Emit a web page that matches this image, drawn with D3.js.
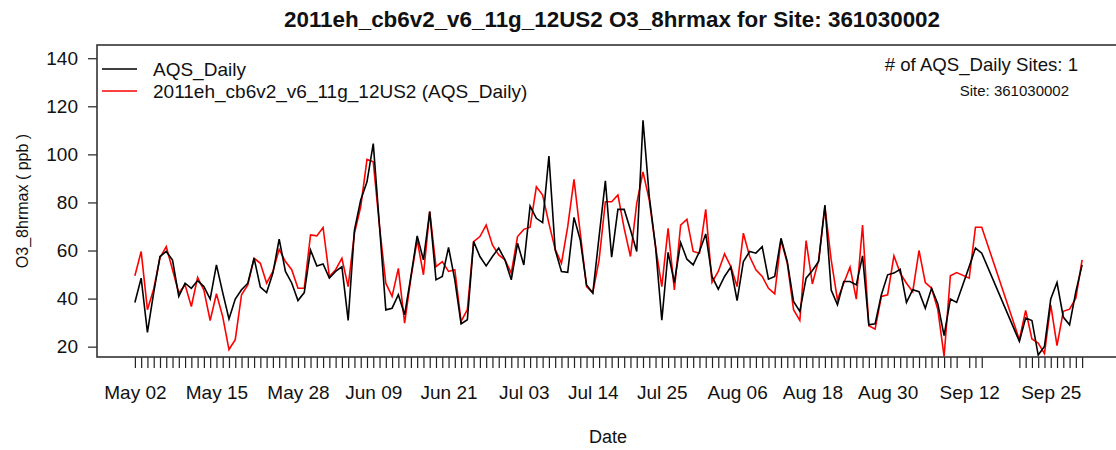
<!DOCTYPE html>
<html>
<head>
<meta charset="utf-8">
<script src="https://cdn.jsdelivr.net/npm/d3@7"></script>
<style>
  body { margin: 0; background: #fff; }
  svg text { font-family: "Liberation Sans", Arial, Helvetica, sans-serif; fill: #111; }
</style>
</head>
<body>
<div id="chart"></div>
<script>
// dates with data (Sep 11 and Sep 15-19 are missing)
const dates = [
  "2011-05-02","2011-05-03","2011-05-04","2011-05-05","2011-05-06","2011-05-07","2011-05-08","2011-05-09","2011-05-10","2011-05-11",
  "2011-05-12","2011-05-13","2011-05-14","2011-05-15","2011-05-16","2011-05-17","2011-05-18","2011-05-19","2011-05-20","2011-05-21",
  "2011-05-22","2011-05-23","2011-05-24","2011-05-25","2011-05-26","2011-05-27","2011-05-28","2011-05-29","2011-05-30","2011-05-31",
  "2011-06-01","2011-06-02","2011-06-03","2011-06-04","2011-06-05","2011-06-06","2011-06-07","2011-06-08","2011-06-09","2011-06-10",
  "2011-06-11","2011-06-12","2011-06-13","2011-06-14","2011-06-15","2011-06-16","2011-06-17","2011-06-18","2011-06-19","2011-06-20",
  "2011-06-21","2011-06-22","2011-06-23","2011-06-24","2011-06-25","2011-06-26","2011-06-27","2011-06-28","2011-06-29","2011-06-30",
  "2011-07-01","2011-07-02","2011-07-03","2011-07-04","2011-07-05","2011-07-06","2011-07-07","2011-07-08","2011-07-09","2011-07-10",
  "2011-07-11","2011-07-12","2011-07-13","2011-07-14","2011-07-15","2011-07-16","2011-07-17","2011-07-18","2011-07-19","2011-07-20",
  "2011-07-21","2011-07-22","2011-07-23","2011-07-24","2011-07-25","2011-07-26","2011-07-27","2011-07-28","2011-07-29","2011-07-30",
  "2011-07-31","2011-08-01","2011-08-02","2011-08-03","2011-08-04","2011-08-05","2011-08-06","2011-08-07","2011-08-08","2011-08-09",
  "2011-08-10","2011-08-11","2011-08-12","2011-08-13","2011-08-14","2011-08-15","2011-08-16","2011-08-17","2011-08-18","2011-08-19",
  "2011-08-20","2011-08-21","2011-08-22","2011-08-23","2011-08-24","2011-08-25","2011-08-26","2011-08-27","2011-08-28","2011-08-29",
  "2011-08-30","2011-08-31","2011-09-01","2011-09-02","2011-09-03","2011-09-04","2011-09-05","2011-09-06","2011-09-07","2011-09-08",
  "2011-09-09","2011-09-10","2011-09-12","2011-09-13","2011-09-14","2011-09-20","2011-09-21","2011-09-22","2011-09-23","2011-09-24",
  "2011-09-25","2011-09-26","2011-09-27","2011-09-28","2011-09-29","2011-09-30"
];

// AQS_Daily observed O3 8hr max (ppb)
const obsValues = [
  38.4, 48.5, 25.9, 42.5, 57.5, 59.6, 56.0, 40.9, 46.4, 44.3,
  47.5, 45.0, 39.8, 54.0, 42.5, 31.5, 39.8, 43.7, 46.4, 56.8,
  44.8, 42.5, 50.6, 64.7, 51.3, 46.5, 39.2, 42.5, 60.2, 53.6,
  54.4, 48.5, 51.3, 53.3, 30.9, 68.5, 81.0, 88.6, 104.5, 70.0,
  35.3, 36.0, 41.6, 33.3, 49.2, 66.1, 56.1, 76.2, 47.8, 49.2,
  61.3, 47.8, 29.5, 31.2, 63.7, 57.5, 53.6, 57.5, 61.0, 56.1,
  47.8, 63.0, 54.0, 78.5, 73.4, 71.6, 99.3, 60.3, 51.3, 50.9,
  73.8, 64.4, 45.7, 42.3, 65.8, 89.0, 57.2, 77.1, 77.1, 68.6,
  59.6, 114.2, 82.4, 61.6, 31.0, 59.2, 46.7, 63.3, 56.4, 54.0,
  59.6, 66.9, 49.2, 43.9, 49.2, 53.1, 39.2, 55.4, 59.6, 58.9,
  61.6, 48.1, 49.2, 65.1, 55.4, 38.8, 34.7, 48.5, 51.7, 55.4,
  78.9, 43.6, 37.4, 47.1, 47.1, 45.7, 57.8, 29.1, 29.5, 41.6,
  49.9, 50.6, 52.2, 38.4, 43.7, 42.9, 36.0, 44.3, 37.8, 24.6,
  39.8, 38.4, 53.3, 61.0, 58.9, 22.2, 31.9, 30.9, 16.5, 20.1,
  39.8, 46.7, 32.3, 29.1, 42.9, 54.0
];

// 2011eh_cb6v2_v6_11g_12US2 model values at the same dates
const modelValues = [
  49.5, 59.6, 35.4, 44.0, 57.0, 61.6, 52.0, 42.3, 45.7, 36.7,
  48.8, 43.5, 30.9, 42.0, 32.5, 18.8, 22.9, 41.6, 45.7, 56.8,
  54.7, 46.4, 51.3, 60.5, 55.4, 52.0, 44.3, 44.3, 66.5, 66.1,
  69.6, 49.2, 52.0, 56.8, 45.0, 67.2, 78.2, 97.9, 96.9, 70.0,
  46.4, 40.9, 52.6, 29.8, 48.5, 64.4, 49.9, 76.2, 53.3, 55.4,
  51.3, 52.0, 30.5, 35.4, 63.7, 65.8, 70.6, 62.3, 58.2, 56.1,
  50.6, 65.8, 68.8, 69.7, 86.5, 83.1, 71.3, 60.5, 54.7, 69.9,
  89.6, 67.2, 45.0, 42.5, 56.1, 80.3, 80.3, 83.1, 69.2, 57.5,
  79.6, 92.7, 81.0, 61.6, 45.0, 69.2, 43.6, 70.6, 73.0, 59.6,
  58.9, 77.1, 46.7, 51.3, 58.6, 53.3, 45.0, 67.2, 57.5, 52.0,
  49.2, 44.3, 42.0, 64.4, 54.7, 35.4, 30.9, 64.1, 46.1, 56.1,
  78.2, 56.1, 39.5, 46.4, 53.1, 39.8, 70.6, 28.7, 27.3, 40.9,
  41.6, 57.8, 50.6, 46.4, 42.9, 60.0, 46.7, 44.3, 35.4, 16.0,
  49.5, 50.8, 48.5, 69.7, 69.7, 22.9, 35.1, 23.2, 21.5, 17.1,
  37.4, 20.4, 34.7, 35.6, 40.2, 56.1
];

const labelDates = ["2011-05-02","2011-05-15","2011-05-28","2011-06-09","2011-06-21","2011-07-03",
  "2011-07-14","2011-07-25","2011-08-06","2011-08-18","2011-08-30","2011-09-12","2011-09-25"];
const yTicks = [20, 40, 60, 80, 100, 120, 140];

const seriesNames = ["AQS_Daily", "2011eh_cb6v2_v6_11g_12US2 (AQS_Daily)"];
const seriesColors = ["#000000", "#ff0000"];

var w = 1116;
var h = 450;
var plotLeft = 97, plotRight = 1120, plotTop = 45, plotBottom = 357;

var parseDate = d3.timeParse("%Y-%m-%d");
var data = dates.map((d, i) => ({ date: parseDate(d), obs: obsValues[i], mod: modelValues[i] }));

// R style 4% padding on the date range
var first = data[0].date, last = data[data.length - 1].date;
var pad = (last - first) * 0.04;
var xScale = d3.scaleTime()
  .domain([new Date(+first - pad), new Date(+last + pad)])
  .range([plotLeft, plotRight]);

var yScale = d3.scaleLinear()
  .domain([15.7, 145.5])
  .range([plotBottom, plotTop]);

var svg = d3.select("#chart")
  .append("svg")
  .attr("width", w)
  .attr("height", h);

//Title
svg.append("text")
  .attr("x", 612)
  .attr("y", 27)
  .attr("text-anchor", "middle")
  .style("font-size", "22.4px")
  .style("font-weight", "bold")
  .text("2011eh_cb6v2_v6_11g_12US2 O3_8hrmax for Site: 361030002");

//X axis: one tick per day with data
var xTicks = svg.append("g")
  .attr("transform", "translate(0," + plotBottom + ")")
  .call(d3.axisBottom(xScale).tickValues(data.map(d => d.date)).tickSize(11).tickFormat(""));
xTicks.select(".domain").remove();
xTicks.selectAll("line").attr("stroke", "#222").attr("stroke-width", 1.2);

var xLabels = svg.append("g")
  .attr("transform", "translate(0," + plotBottom + ")")
  .call(d3.axisBottom(xScale).tickValues(labelDates.map(parseDate)).tickSize(0).tickFormat(d3.timeFormat("%b %d")));
xLabels.select(".domain").remove();
xLabels.selectAll("text")
  .attr("y", 42)
  .attr("dy", 0)
  .style("font-size", "19px")
  .attr("fill", "#111");

//Y axis
var yAxis = svg.append("g")
  .attr("transform", "translate(" + plotLeft + ",0)")
  .call(d3.axisLeft(yScale).tickValues(yTicks).tickSize(9).tickPadding(10));
yAxis.select(".domain").remove();
yAxis.selectAll("line").attr("stroke", "#222").attr("stroke-width", 1.2);
yAxis.selectAll("text").style("font-size", "19px").attr("fill", "#111");

// axis titles
svg.append("text")
  .attr("transform", "translate(28,201) rotate(-90)")
  .attr("text-anchor", "middle")
  .style("font-size", "16px")
  .text("O3_8hrmax ( ppb )");

svg.append("text")
  .attr("x", 608)
  .attr("y", 443)
  .attr("text-anchor", "middle")
  .style("font-size", "18px")
  .text("Date");

// lines
var modelLine = d3.line().x(d => xScale(d.date)).y(d => yScale(d.mod));
var obsLine = d3.line().x(d => xScale(d.date)).y(d => yScale(d.obs));

svg.append("path")
  .datum(data)
  .attr("d", modelLine)
  .attr("fill", "none")
  .attr("stroke", seriesColors[1])
  .attr("stroke-width", 1.6);

svg.append("path")
  .datum(data)
  .attr("d", obsLine)
  .attr("fill", "none")
  .attr("stroke", seriesColors[0])
  .attr("stroke-width", 1.6);

// plot box
svg.append("rect")
  .attr("x", plotLeft)
  .attr("y", plotTop)
  .attr("width", plotRight - plotLeft)
  .attr("height", plotBottom - plotTop)
  .attr("fill", "none")
  .attr("stroke", "#333")
  .attr("stroke-width", 1.6);

// legend
var legend = svg.append("g")
  .selectAll("g")
  .data(seriesNames)
  .enter()
  .append("g")
  .attr("transform", (d, i) => "translate(0," + (69 + i * 22) + ")");

legend.append("line")
  .attr("x1", 102)
  .attr("x2", 137)
  .attr("stroke", (d, i) => seriesColors[i])
  .attr("stroke-width", 1.6);

legend.append("text")
  .attr("x", 153)
  .attr("y", 6.8)
  .style("font-size", "19px")
  .text(d => d);

// site info, top right
svg.append("text")
  .attr("x", 1078)
  .attr("y", 71)
  .attr("text-anchor", "end")
  .style("font-size", "18.6px")
  .text("# of AQS_Daily Sites: 1");

svg.append("text")
  .attr("x", 1069)
  .attr("y", 96)
  .attr("text-anchor", "end")
  .style("font-size", "15px")
  .text("Site: 361030002");
</script>
</body>
</html>
